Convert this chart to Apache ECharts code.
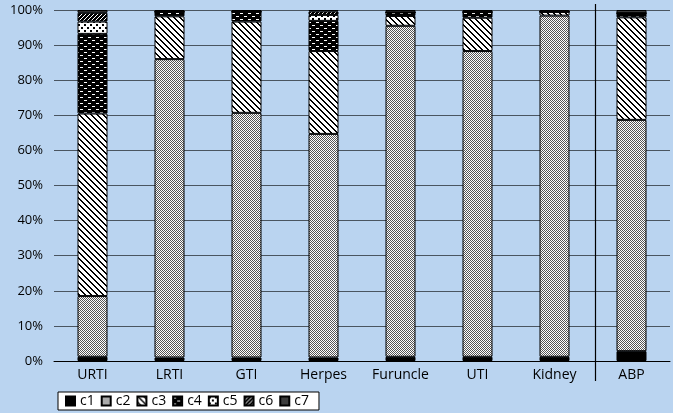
<!DOCTYPE html>
<html>
<head>
<meta charset="utf-8">
<script src="https://cdn.jsdelivr.net/npm/echarts@6/dist/echarts.min.js"></script>
<style>
  html, body { margin: 0; padding: 0; background: #bad4f0; }
  #chart { width: 673px; height: 413px; }
</style>
</head>
<body>
<div id="chart"></div>
<script>
const categories = ['URTI', 'LRTI', 'GTI', 'Herpes', 'Furuncle', 'UTI', 'Kidney', 'ABP'];
const seriesNames = ['c1', 'c2', 'c3', 'c4', 'c5', 'c6', 'c7'];
const c1 = [1.2, 1.0, 1.0, 1.0, 1.2, 1.2, 1.2, 2.8];
const c2 = [17.3, 85.0, 69.7, 63.7, 94.3, 87.1, 97.2, 65.9];
const c3 = [52.0, 12.2, 26.0, 23.6, 2.8, 9.5, 1.1, 29.2];
const c4 = [22.7, 1.3, 2.8, 8.6, 1.0, 1.6, 0, 1.2];
const c5 = [3.5, 0, 0, 1.7, 0, 0, 0, 0];
const c6 = [2.5, 0, 0, 1.0, 0, 0, 0, 0];
const c7 = [0.8, 0.5, 0.5, 0.4, 0.7, 0.6, 0.5, 0.9];
const yTicks = [0, 10, 20, 30, 40, 50, 60, 70, 80, 90, 100];

// small tiled fills, drawn pixel by pixel
function pattern(w, h, bg, isInk, ink) {
  const c = document.createElement('canvas');
  c.width = w; c.height = h;
  const g = c.getContext('2d');
  g.fillStyle = bg;
  g.fillRect(0, 0, w, h);
  g.fillStyle = ink || '#000';
  for (let x = 0; x < w; x++) {
    for (let y = 0; y < h; y++) {
      if (isInk(x, y)) g.fillRect(x, y, 1, 1);
    }
  }
  return { image: c, repeat: 'repeat' };
}

const fills = [
  '#000000',
  pattern(2, 2, '#ffffff', (x, y) => (x + y) % 2 === 0, '#555'),
  pattern(6, 6, '#ffffff', (x, y) => ((x - y) % 6 + 6) % 6 < 2),
  pattern(8, 6, '#000000', (x, y) => (y === 1 && x < 3) || (y === 4 && x >= 4 && x < 7), '#ffffff'),
  pattern(6, 6, '#ffffff', (x, y) => (x % 6 < 2 && y % 6 < 2) || ((x + 3) % 6 < 2 && (y + 3) % 6 < 2)),
  pattern(4, 4, '#ffffff', (x, y) => (x + y) % 4 < 3),
  '#3c3c3c'
];

const data = [c1, c2, c3, c4, c5, c6, c7];

const chart = echarts.init(document.getElementById('chart'));
chart.setOption({
  backgroundColor: '#bad4f0',
  animation: false,
  textStyle: { fontFamily: 'Open Sans' },
  grid: { left: 54, right: 3, top: 10, bottom: 52 },
  legend: {
    left: 58, top: 392,
    backgroundColor: '#ffffff',
    borderColor: '#000',
    borderWidth: 1,
    borderRadius: 0,
    padding: [2, 10, 2, 7],
    itemWidth: 9, itemHeight: 9, itemGap: 6,
    icon: 'rect',
    textStyle: { fontSize: 14, color: '#000' },
    data: seriesNames
  },
  xAxis: {
    type: 'category',
    data: categories,
    axisLine: { lineStyle: { color: '#000', width: 1 } },
    axisTick: { show: false },
    axisLabel: { color: '#000', fontSize: 14, margin: 7 }
  },
  yAxis: {
    type: 'value',
    min: 0, max: 100, interval: 10,
    axisLine: { show: false },
    axisTick: { show: false },
    axisLabel: { color: '#000', fontSize: 13, margin: 11, formatter: v => v + '%' },
    splitLine: { lineStyle: { color: '#4a5560', width: 1 } }
  },
  series: seriesNames.map((name, i) => ({
    name: name,
    type: 'bar',
    stack: 'all',
    barWidth: 30,
    data: data[i],
    itemStyle: { color: fills[i], borderColor: '#000', borderWidth: 1 }
  }))
});

// separator between Kidney and ABP
const xa = chart.convertToPixel({ xAxisIndex: 0 }, 'Kidney');
const xb = chart.convertToPixel({ xAxisIndex: 0 }, 'ABP');
const sepX = Math.round((xa + xb) / 2) + 2.5;
chart.setOption({
  graphic: [{
    type: 'line',
    shape: { x1: sepX, y1: 4, x2: sepX, y2: 381 },
    style: { stroke: '#000', lineWidth: 1.2 }
  }]
});
</script>
</body>
</html>
